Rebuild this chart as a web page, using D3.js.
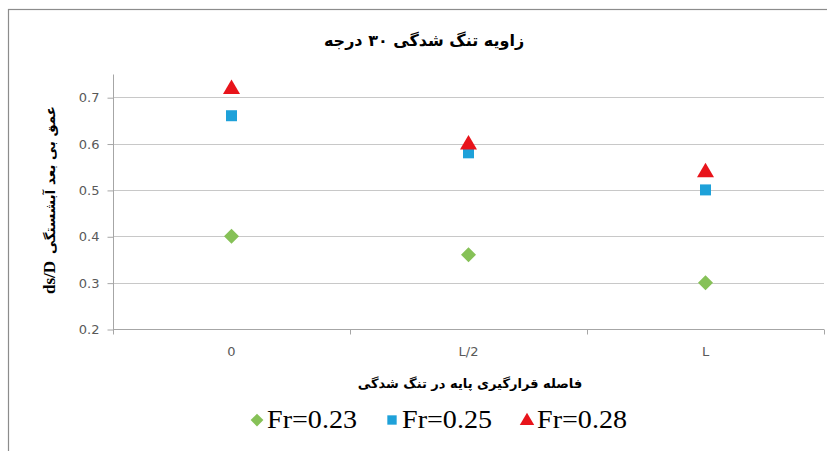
<!DOCTYPE html>
<html>
<head>
<meta charset="utf-8">
<script src="https://cdn.jsdelivr.net/npm/d3@7"></script>
<style>
  html, body { margin: 0; padding: 0; background: #fff; }
  svg { display: block; }
</style>
</head>
<body>
<svg id="chart" width="827" height="451"></svg>
<script>
// Scour depth vs pier position, contraction angle 30°
const categories = ["0", "L/2", "L"];
const fr023 = [0.40, 0.36, 0.30];
const fr025 = [0.66, 0.58, 0.50];
const fr028 = [0.72, 0.60, 0.54];
const yTicks = [0.2, 0.3, 0.4, 0.5, 0.6, 0.7];
const seriesNames = ["Fr=0.23", "Fr=0.25", "Fr=0.28"];

const titleText = "زاویه تنگ شدگی ۳۰ درجه";
const yLabelFa = "عمق بی بعد آبشستگی";
const yLabelSym = "ds/D";
const xLabelText = "فاصله قرارگیری پایه در تنگ شدگی";

const svg = d3.select("#chart");
const W = 827, H = 451;
const plot = { left: 113, right: 824, top: 74, bottom: 329 };

// chart frame
svg.append("rect")
  .attr("x", 8.5).attr("y", 9.5)
  .attr("width", W + 20).attr("height", H + 20)
  .attr("fill", "#fff").attr("stroke", "#8c8c8c").attr("stroke-width", 1.2);

const x = d3.scaleBand().domain(categories).range([plot.left, plot.right]).padding(0);
const y = d3.scaleLinear().domain([0.2, 0.75]).range([plot.bottom, plot.top]);

// horizontal gridlines
svg.append("g").selectAll("line").data(yTicks.slice(1)).join("line")
  .attr("x1", plot.left).attr("x2", plot.right)
  .attr("y1", d => Math.round(y(d)) + 0.5).attr("y2", d => Math.round(y(d)) + 0.5)
  .attr("stroke", "#c8c8c8").attr("stroke-width", 1.2);

// y axis
const yAxis = d3.axisLeft(y).tickValues(yTicks).tickSize(6).tickPadding(8)
  .tickFormat(d3.format(".1f"));
const gy = svg.append("g").attr("transform", `translate(${plot.left + 0.5},0.5)`).call(yAxis);
gy.select(".domain").attr("stroke", "#a6a6a6").attr("d", `M0,${plot.bottom}V${plot.top}`);
gy.selectAll(".tick line").attr("stroke", "#a6a6a6");
gy.selectAll(".tick text")
  .attr("fill", "#595959")
  .style("font-family", "'DejaVu Sans', sans-serif")
  .style("font-size", "13px");

// x axis: ticks sit on category boundaries, labels centred in each band
const gx = svg.append("g").attr("transform", `translate(0,${Math.round(y(0.2)) + 0.5})`);
gx.append("line").attr("x1", plot.left).attr("x2", plot.right)
  .attr("stroke", "#a6a6a6").attr("stroke-width", 1.2);
const bounds = categories.map(c => x(c)).concat([x(categories[categories.length - 1]) + x.bandwidth()]);
gx.selectAll("line.tk").data(bounds).join("line").attr("class", "tk")
  .attr("x1", d => Math.round(d) + 0.5).attr("x2", d => Math.round(d) + 0.5)
  .attr("y1", 0).attr("y2", 5).attr("stroke", "#a6a6a6");
gx.selectAll("text").data(categories).join("text")
  .attr("x", d => x(d) + x.bandwidth() / 2).attr("y", 26)
  .attr("text-anchor", "middle").attr("fill", "#595959")
  .style("font-family", "'DejaVu Sans', sans-serif").style("font-size", "13px")
  .text(d => d);

// markers
const cx = c => x(c) + x.bandwidth() / 2;
const diamond = "M0,-7.5L7.5,0L0,7.5L-7.5,0Z";
const square = "M-5.5,-5.5H5.5V5.5H-5.5Z";
const triangle = "M0,-8.5L8.5,6L-8.5,6Z";

const series = [
  { name: seriesNames[0], values: fr023, path: diamond, color: "#86c157" },
  { name: seriesNames[1], values: fr025, path: square, color: "#1ea1d9" },
  { name: seriesNames[2], values: fr028, path: triangle, color: "#e8141b" }
];

series.forEach(s => {
  svg.append("g").selectAll("path").data(s.values).join("path")
    .attr("d", s.path)
    .attr("transform", (v, i) => `translate(${cx(categories[i])},${y(v)})`)
    .attr("fill", s.color);
});

// title
svg.append("text")
  .attr("x", 424).attr("y", 46)
  .attr("text-anchor", "middle").attr("direction", "rtl")
  .style("font-family", "'DejaVu Sans', sans-serif").style("font-weight", "bold")
  .style("font-size", "16px").attr("fill", "#000")
  .text(titleText);

// y axis title: symbol part at the bottom, Persian words above it
svg.append("text")
  .attr("transform", "translate(55,294) rotate(-90)")
  .attr("text-anchor", "start")
  .style("font-family", "'Liberation Serif', 'Times New Roman', serif").style("font-weight", "bold")
  .style("font-size", "17px").attr("fill", "#000")
  .text(yLabelSym);
svg.append("text")
  .attr("transform", "translate(55,180) rotate(-90)")
  .attr("text-anchor", "middle").attr("direction", "rtl")
  .style("font-family", "'DejaVu Sans', sans-serif").style("font-weight", "bold")
  .style("font-size", "13.5px").attr("fill", "#000")
  .text(yLabelFa);

// x axis title
svg.append("text")
  .attr("x", 470).attr("y", 388)
  .attr("text-anchor", "middle").attr("direction", "rtl")
  .style("font-family", "'DejaVu Sans', sans-serif").style("font-weight", "bold")
  .style("font-size", "13px").attr("fill", "#000")
  .text(xLabelText);

// legend
const legendX = [257, 392, 527];
const lg = svg.append("g").attr("transform", "translate(0,420)");
series.forEach((s, i) => {
  const g = lg.append("g").attr("transform", `translate(${legendX[i]},0)`);
  g.append("path").attr("d", s.path).attr("transform", "scale(0.85)").attr("fill", s.color);
  g.append("text").attr("x", 10).attr("y", 8)
    .style("font-family", "'Liberation Serif', 'Times New Roman', serif")
    .style("font-size", "25px").attr("fill", "#000")
    .attr("textLength", 90).attr("lengthAdjust", "spacingAndGlyphs")
    .text(s.name);
});
</script>
</body>
</html>
